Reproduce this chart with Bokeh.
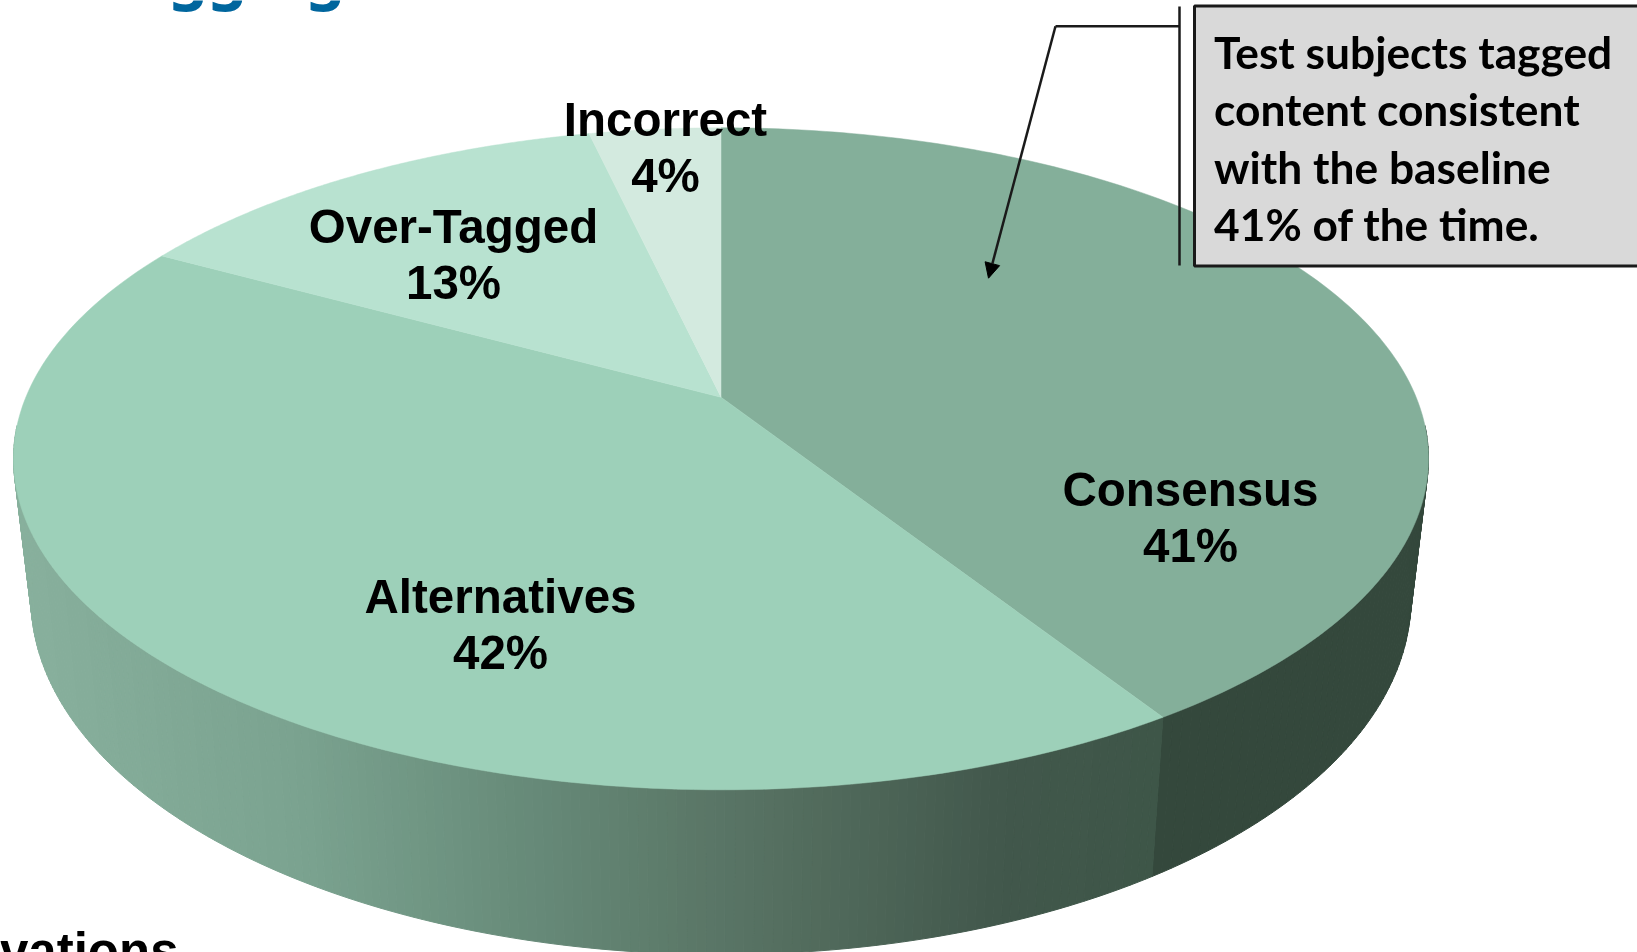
import numpy as np
from bokeh.plotting import figure
from bokeh.models import Range1d, Arrow, NormalHead
from bokeh.core.properties import value
from bokeh.embed import file_html
from bokeh.resources import INLINE

categories = ["Consensus", "Alternatives", "Over-Tagged", "Incorrect"]
shares = [41.0, 42.0, 13.4, 3.6]
share_labels = ["41%", "42%", "13%", "4%"]
top_colors = ["#84AF9A", "#9DD0B9", "#B8E2D0", "#D3EADF"]
callout_lines = ["Test subjects tagged", "content consistent", "with the baseline", "41% of the time."]

W, H = 1637, 952
CX, K = 720.5, 0.186
TOP = dict(a=707.5, b=331.0, cy=458.3)
BOT = dict(a=690.0, b=356.0, cy=598.0)


def project(theta_deg, disc):
    """Perspective view of a circle: theta runs clockwise from 12 o'clock."""
    t = np.radians(theta_deg)
    u, v = np.sin(t), np.cos(t)
    den = 1 + K * v
    x = CX + disc["a"] * np.sqrt(1 - K * K) * u / den
    y = disc["cy"] - disc["b"] * (v + K) / den
    return x, y


def lerp_color(x):
    stops_x = [30, 300, 520, 770, 1000, 1170]
    r = np.interp(x, stops_x, [0x88, 0x7B, 0x68, 0x56, 0x42, 0x3E])
    g = np.interp(x, stops_x, [0xB0, 0xA3, 0x8C, 0x70, 0x58, 0x56])
    b = np.interp(x, stops_x, [0x9D, 0x90, 0x7A, 0x61, 0x4C, 0x48])
    return "#%02x%02x%02x" % (int(r), int(g), int(b))


def wall(theta_from, theta_to, n, color_of):
    th = np.linspace(theta_from, theta_to, n)
    xs, ys, cs = [], [], []
    for a, b in zip(th[:-1], th[1:]):
        xa, ya = project(np.array([a, b]), TOP)
        xb, yb = project(np.array([b, a]), BOT)
        xs.append(list(xa) + list(xb))
        ys.append(list(ya) + list(yb))
        cs.append(color_of((xa.mean() + xb.mean()) / 2))
    return xs, ys, cs


p = figure(width=W, height=H, x_range=Range1d(0, W), y_range=Range1d(H, 0),
           x_axis_type=None, y_axis_type=None, toolbar_location=None,
           output_backend="svg", min_border=0, outline_line_color=None,
           background_fill_color="white", border_fill_color="white",
           styles={"position": "fixed", "left": "0px", "top": "0px"})
p.grid.visible = False

edges = np.concatenate([[0.0], np.cumsum(shares)]) * 3.6

# Side wall: Consensus
xs, ys, cs = wall(95, edges[1], 60, lambda x: "#34483C")
p.patches(xs, ys, fill_color=cs, line_color=cs, line_width=1)

# Side wall: Alternatives, shaded from light to dark across the width
xs, ys, cs = wall(edges[1], min(edges[2], 265), 180, lerp_color)
p.patches(xs, ys, fill_color=cs, line_color=cs, line_width=1)

# Top face wedges
for i, c in enumerate(top_colors):
    th = np.linspace(edges[i], edges[i + 1], 160)
    x, y = project(th, TOP)
    ax, ay = CX, TOP["cy"] - TOP["b"] * K
    p.patch(np.concatenate([[ax], x]), np.concatenate([[ay], y]), fill_color=c, line_color=c, line_width=0.5)

# Pie labels
label_x = [1190, 500, 453, 665]
label_y = [489, 596, 226, 119]
LINE = 55.5
for t, s, x, y in zip(categories, share_labels, label_x, label_y):
    p.text([x, x], [y, y + LINE], text=[t, s], text_align="center", text_baseline="alphabetic",
           text_font=value("Liberation Sans"), text_font_style="bold", text_font_size="47.5px",
           text_color="#000000")

# Clipped slide fragments
p.text([100], [-28], text=["Tagging"], text_font=value("Noto Sans"), text_font_style="bold",
       text_font_size="62px", text_color="#00669E", text_baseline="alphabetic")
p.text([178], [951], text=["Observations"], text_font=value("Liberation Sans"), text_font_style="bold",
       text_font_size="51px", text_color="#000000", text_align="right", text_baseline="alphabetic")

# Callout
p.quad(left=[1194], right=[1660], top=[5.5], bottom=[265.5], fill_color="#D9D9D9",
       line_color="#1A1A1A", line_width=3)
p.line([1179, 1179], [6, 265], line_color="#1A1A1A", line_width=2.5)
p.line([1179, 1055], [25.7, 25.7], line_color="#1A1A1A", line_width=2.5)
p.add_layout(Arrow(end=NormalHead(size=15, fill_color="#000000", line_color="#000000"),
                   x_start=1055, y_start=25.7, x_end=988, y_end=277.7,
                   line_color="#1A1A1A", line_width=2.5))
for i, t in enumerate(callout_lines):
    p.text([1213.5], [50.5 + 57.5 * i], text=[t], text_font=value("Lato"), text_font_style="bold",
           text_font_size="44.3px", text_color="#000000", text_baseline="alphabetic")

open("out.html", "w").write(file_html(p, INLINE))
